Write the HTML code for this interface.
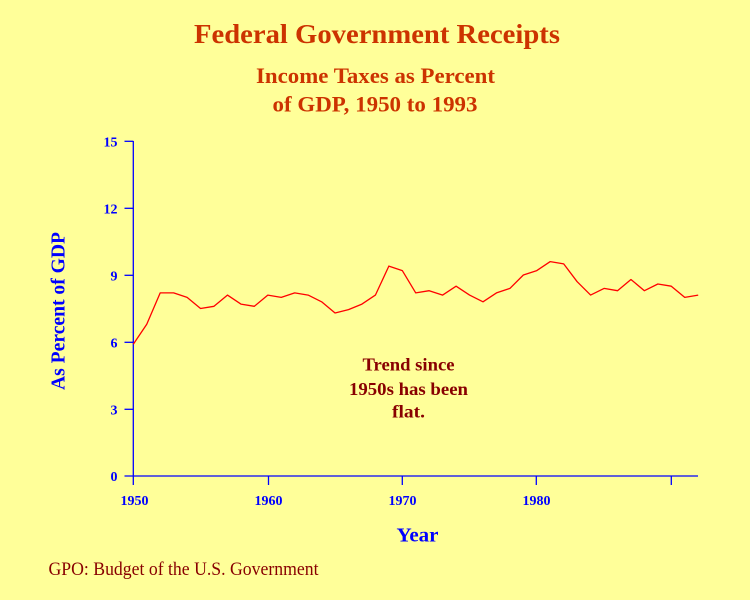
<!DOCTYPE html>
<html>
<head>
<meta charset="utf-8">
<style>
  html,body{margin:0;padding:0;background:#FFFF99;}
  svg{display:block;}
</style>
</head>
<body>
<svg width="750" height="600" viewBox="0 0 750 600" xmlns="http://www.w3.org/2000/svg">
  <rect x="0" y="0" width="750" height="600" fill="#FFFF99"/>

  <!-- Titles -->
  <text x="377" y="43" font-family="Liberation Serif, serif" font-weight="bold" font-size="27" fill="#CC3300" text-anchor="middle" textLength="366" lengthAdjust="spacingAndGlyphs">Federal Government Receipts</text>
  <text x="375.5" y="83" font-family="Liberation Serif, serif" font-weight="bold" font-size="22" fill="#CC3300" text-anchor="middle" textLength="239" lengthAdjust="spacingAndGlyphs">Income Taxes as Percent</text>
  <text x="375" y="111.5" font-family="Liberation Serif, serif" font-weight="bold" font-size="22" fill="#CC3300" text-anchor="middle" textLength="205" lengthAdjust="spacingAndGlyphs">of GDP, 1950 to 1993</text>

  <!-- Y axis label -->
  <text transform="translate(64.5,311) rotate(-90)" x="0" y="0" font-family="Liberation Serif, serif" font-weight="bold" font-size="20" fill="#0000FF" text-anchor="middle" textLength="158" lengthAdjust="spacingAndGlyphs">As Percent of GDP</text>

  <!-- Axes -->
  <g stroke="#0000FF" stroke-width="1.3" fill="none">
    <line x1="133.3" y1="141" x2="133.3" y2="485"/>
    <line x1="124.5" y1="476" x2="698" y2="476"/>
    <!-- y ticks -->
    <line x1="124.5" y1="141.3" x2="133.3" y2="141.3"/>
    <line x1="124.5" y1="208.3" x2="133.3" y2="208.3"/>
    <line x1="124.5" y1="275.3" x2="133.3" y2="275.3"/>
    <line x1="124.5" y1="342.3" x2="133.3" y2="342.3"/>
    <line x1="124.5" y1="409.3" x2="133.3" y2="409.3"/>
    <!-- x ticks -->
    <line x1="268.5" y1="476" x2="268.5" y2="485"/>
    <line x1="402.3" y1="476" x2="402.3" y2="485"/>
    <line x1="536.3" y1="476" x2="536.3" y2="485"/>
    <line x1="671.3" y1="476" x2="671.3" y2="485"/>
  </g>

  <!-- Y tick labels -->
  <g font-family="Liberation Serif, serif" font-weight="bold" font-size="14" fill="#0000FF" text-anchor="end">
    <text x="117.5" y="146.3">15</text>
    <text x="117.5" y="213.3">12</text>
    <text x="117.5" y="280.3">9</text>
    <text x="117.5" y="347.3">6</text>
    <text x="117.5" y="414.3">3</text>
    <text x="117.5" y="481">0</text>
  </g>

  <!-- X tick labels -->
  <g font-family="Liberation Serif, serif" font-weight="bold" font-size="14" fill="#0000FF" text-anchor="middle">
    <text x="134.5" y="505" textLength="28" lengthAdjust="spacingAndGlyphs">1950</text>
    <text x="268.5" y="505" textLength="28" lengthAdjust="spacingAndGlyphs">1960</text>
    <text x="402.5" y="505" textLength="28" lengthAdjust="spacingAndGlyphs">1970</text>
    <text x="536.5" y="505" textLength="28" lengthAdjust="spacingAndGlyphs">1980</text>
  </g>

  <!-- X axis label -->
  <text x="417.5" y="541.5" font-family="Liberation Serif, serif" font-weight="bold" font-size="20" fill="#0000FF" text-anchor="middle" textLength="42" lengthAdjust="spacingAndGlyphs">Year</text>

  <!-- Data line -->
  <polyline fill="none" stroke="#FF0000" stroke-width="1.3" stroke-linejoin="round"
    points="133.3,344.2 146.75,324.2 160.2,292.9 173.65,292.9 187.1,297.4 200.55,308.5 214,306.3 227.45,295.1 240.9,304.1 254.35,306.3 267.8,295.1 281.25,297.4 294.7,292.9 308.15,295.1 321.6,301.8 335.05,313 348.5,309.6 361.95,304.1 375.4,295.1 388.85,266.1 402.3,270.6 415.75,292.9 429.2,290.7 442.65,295.1 456.1,286.2 469.55,295.1 483,301.8 496.45,292.9 509.9,288.4 523.35,275 536.8,270.6 550.25,261.6 563.7,263.9 577.15,281.7 590.6,295.1 604.05,288.4 617.5,290.7 630.95,279.5 644.4,290.7 657.85,284 671.3,286.2 684.75,297.4 698.2,295.1"/>

  <!-- Annotation -->
  <g font-family="Liberation Serif, serif" font-weight="bold" font-size="18" fill="#880000" text-anchor="middle">
    <text x="408.5" y="370.5" textLength="92" lengthAdjust="spacingAndGlyphs">Trend since</text>
    <text x="408.5" y="395" textLength="119" lengthAdjust="spacingAndGlyphs">1950s has been</text>
    <text x="408.5" y="417.5" textLength="33" lengthAdjust="spacingAndGlyphs">flat.</text>
  </g>

  <!-- Footer -->
  <text x="48.5" y="575" font-family="Liberation Serif, serif" font-size="19" fill="#880000" textLength="270" lengthAdjust="spacingAndGlyphs">GPO: Budget of the U.S. Government</text>
</svg>
</body>
</html>
